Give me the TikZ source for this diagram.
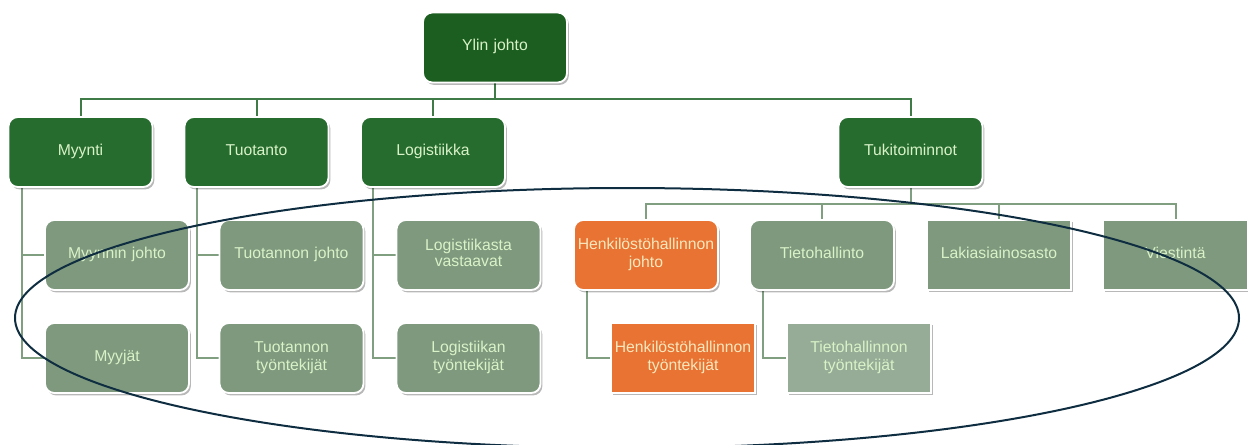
\documentclass[tikz,border=0pt]{standalone}
\usepackage{fontspec}
\setmainfont{Liberation Sans}
\usetikzlibrary{shadows,backgrounds}
\definecolor{topg}{HTML}{1B5E20}
\definecolor{midg}{HTML}{266C2E}
\definecolor{grayg}{HTML}{7E997D}
\definecolor{lightg}{HTML}{97AC96}
\definecolor{orng}{HTML}{E87333}
\definecolor{txtg}{HTML}{D9F2C8}
\definecolor{txto}{HTML}{F7E8BE}
\definecolor{linetop}{HTML}{3E7B46}
\definecolor{linelow}{HTML}{809F81}
\definecolor{ellc}{HTML}{0F2D40}
\tikzset{
  box/.style={draw=white, line width=1.4pt, minimum width=108pt, minimum height=52.5pt,
    inner sep=2pt, align=center, text width=103pt, font=\fontsize{11.8}{12.2}\selectfont, text=txtg,
    execute at begin node={\strut}, execute at end node={\strut},
    drop shadow={shadow xshift=1.4pt, shadow yshift=-1.8pt, opacity=0.28, fill=black}},
  rbox/.style={box, rounded corners=7pt},
  topbox/.style={rbox, fill=topg},
  midbox/.style={rbox, fill=midg},
  grbox/.style={rbox, fill=grayg},
  grsq/.style={box, fill=grayg},
  ltsq/.style={box, fill=lightg},
  orbox/.style={rbox, fill=orng, text=txto},
  orsq/.style={box, fill=orng, text=txto},
  conntop/.style={draw=linetop, line width=1.5pt},
  connlow/.style={draw=linelow, line width=1.5pt},
}
\begin{document}
\begin{tikzpicture}[x=0.75pt, y=-0.75pt]
\useasboundingbox (0,0) rectangle (1248,444);
% top level
\node[topbox] (top) at (495,47.5) {Ylin johto};
\node[midbox] (myy) at (80.5,152) {Myynti};
\node[midbox] (tuo) at (256.5,152) {Tuotanto};
\node[midbox] (log) at (433,152) {Logistiikka};
\node[midbox] (tuk) at (910.5,152) {Tukitoiminnot};
% row 2
\node[grbox] (myyj) at (117,255) {Myynnin johto};
\node[grbox] (tuoj) at (291.5,255) {Tuotannon johto};
\node[grbox] (logv) at (468.5,255) {Logistiikasta\\vastaavat};
\node[orbox] (henj) at (646,255) {Henkilöstöhallinnon\\johto};
\node[grbox] (tiet) at (822,255) {Tietohallinto};
\node[grsq] (laki) at (999,255) {Lakiasiainosasto};
\node[grsq] (vies) at (1175.5,255) {Viestintä};
% row 3
\node[grbox] (myyt) at (117,358) {Myyjät};
\node[grbox] (tuot) at (291.5,358) {Tuotannon\\työntekijät};
\node[grbox] (logt) at (468.5,358) {Logistiikan\\työntekijät};
\node[orsq] (hent) at (683,358) {Henkilöstöhallinnon\\työntekijät};
\node[ltsq] (tiett) at (859,358) {Tietohallinnon\\työntekijät};
\begin{scope}[on background layer]
\draw[conntop] (top.south) -- ++(0,16) -| (myy.north);
\draw[conntop] (top.south) -- ++(0,16) -| (tuo.north);
\draw[conntop] (top.south) -- ++(0,16) -| (log.north);
\draw[conntop] (top.south) -- ++(0,16) -| (tuk.north);
\draw[connlow] ([xshift=10.5pt]myy.south west) |- (myyj.west);
\draw[connlow] ([xshift=10.5pt]myy.south west) |- (myyt.west);
\draw[connlow] ([xshift=10pt]tuo.south west) |- (tuoj.west);
\draw[connlow] ([xshift=10pt]tuo.south west) |- (tuot.west);
\draw[connlow] ([xshift=10pt]log.south west) |- (logv.west);
\draw[connlow] ([xshift=10pt]log.south west) |- (logt.west);
\draw[connlow] (tuk.south) -- ++(0,16) -| (henj.north);
\draw[connlow] (tuk.south) -- ++(0,16) -| (tiet.north);
\draw[connlow] (tuk.south) -- ++(0,16) -| (laki.north);
\draw[connlow] (tuk.south) -- ++(0,16) -| (vies.north);
\draw[connlow] ([xshift=10.5pt]henj.south west) |- (hent.west);
\draw[connlow] ([xshift=10.5pt]tiet.south west) |- (tiett.west);
\end{scope}
\draw[ellc, line width=1.5pt] (627,318) ellipse [x radius=459pt, y radius=97.5pt];
\end{tikzpicture}
\end{document}
